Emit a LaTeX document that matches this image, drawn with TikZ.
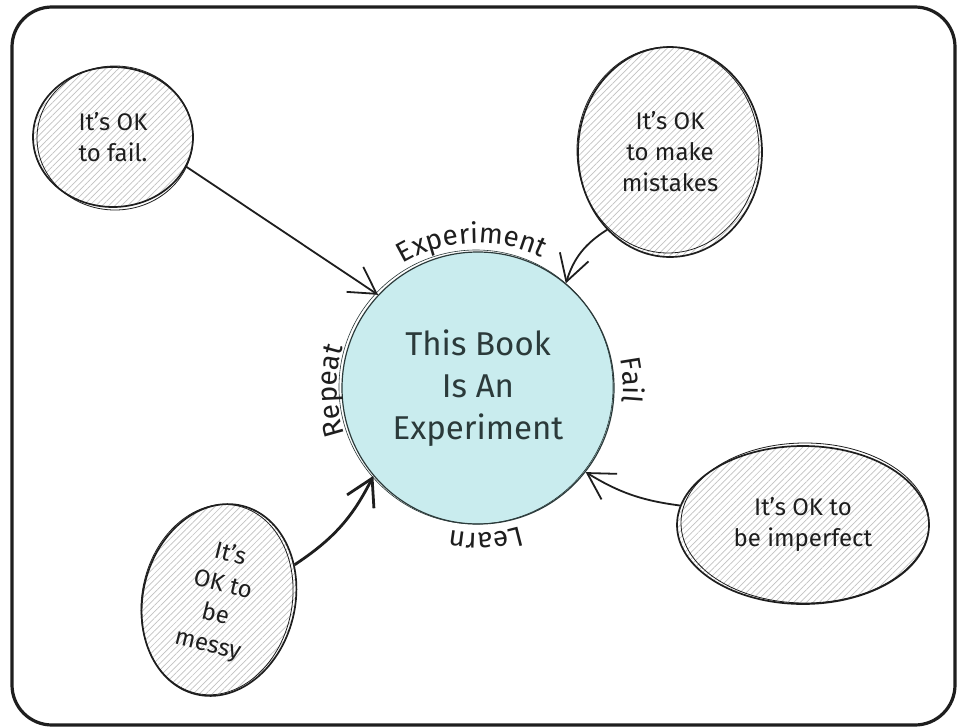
\documentclass[tikz,border=0pt]{standalone}
\usepackage{fontspec}
\setmainfont{Fira Sans}
\usetikzlibrary{positioning,shapes.geometric,arrows.meta,patterns.meta,decorations.text}
\definecolor{inkblack}{HTML}{1E1E1E}
\definecolor{bookfill}{HTML}{C9ECEE}
\definecolor{bookink}{HTML}{2B3A3A}
\definecolor{hatchgrey}{HTML}{C2C2C2}
\newcommand\lblfont{\fontsize{28}{30}\selectfont}
\tikzset{
  frame/.style  ={draw=inkblack, line width=3.2pt, rounded corners=40pt},
  okbub/.style  ={ellipse, draw=inkblack, line width=1.7pt, inner sep=0pt, align=center,
                  font=\fontsize{24}{31}\selectfont, text=inkblack,
                  pattern={Lines[angle=45,distance=4.5pt,line width=0.7pt]}, pattern color=hatchgrey},
  sketch/.style ={draw=inkblack, line width=0.8pt},
  bookc/.style  ={circle, draw=bookink, line width=1.2pt, fill=bookfill, minimum size=272pt,
                  inner sep=0pt, align=center, text=bookink, font=\fontsize{33}{42}\selectfont},
  fl/.style     ={-{Straight Barb[length=26pt,width=30pt]}, draw=inkblack, line width=1.8pt},
  arclbl/.style ={decorate, decoration={text along path, text align=center, text color=inkblack}}
}
\begin{document}
\begin{tikzpicture}[x=1pt, y=1pt]
  \fill[white] (0,0) rectangle (959,-728);
  \useasboundingbox (0,0) rectangle (959,-728);
  \draw[frame] (12,-7) rectangle (955,-725);

  % centre and the four bubbles
  \node[bookc] (book) at (478,-388) {This Book\\Is An\\Experiment};
  \draw[draw=bookink, line width=0.6pt] ([shift={(-2,1)}]book.center) circle [radius=137];

  \node[okbub, minimum width=160pt, minimum height=140pt] (fail) at (113,-137) {It's OK\\to fail.};
  \node[okbub, minimum width=184pt, minimum height=210pt] (mistakes) at (670,-152) {It's OK\\to make\\mistakes};
  \node[okbub, minimum width=252pt, minimum height=158pt] (imperfect) at (803,-525) {It's OK to\\be imperfect};
  \node[okbub, minimum width=152pt, minimum height=194pt, rotate=-14] (messy) at (219,-600) {It's\\OK to\\be\\messy};

  \draw[sketch] ([shift={(2,-1)}]fail.center) ellipse [x radius=78, y radius=72];
  \draw[sketch] ([shift={(-2,2)}]mistakes.center) ellipse [x radius=91, y radius=103];
  \draw[sketch] ([shift={(2,2)}]imperfect.center) ellipse [x radius=124, y radius=80];
  \draw[sketch, rotate around={-12:(messy.center)}] ([shift={(-2,0)}]messy.center) ellipse [x radius=75, y radius=96];

  % connectors
  \draw[fl] (fail.-22) -- (book.137);
  \draw[fl] (mistakes.231) to[bend right=20] (book.50);
  \draw[fl, line width=2.8pt] (messy.39) to[bend right=15] (book.220);
  \draw[fl] (imperfect.171) to[bend left=12] (book.-38);

  % words round the circle
  \path[arclbl, decoration={text={|\lblfont|Experiment}}] (book.center) ++(135:145) arc[start angle=135, end angle=50, radius=145];
  \path[arclbl, decoration={text={|\lblfont|Fail}}] (book.center) ++(35:145) arc[start angle=35, end angle=-29, radius=145];
  \path[arclbl, decoration={text={|\lblfont|Learn}}] (book.center) ++(-45:145) arc[start angle=-45, end angle=-129, radius=145];
  \path[arclbl, decoration={text={|\lblfont|Repeat}}] (book.center) ++(220:141) arc[start angle=220, end angle=142, radius=141];
\end{tikzpicture}
\end{document}
